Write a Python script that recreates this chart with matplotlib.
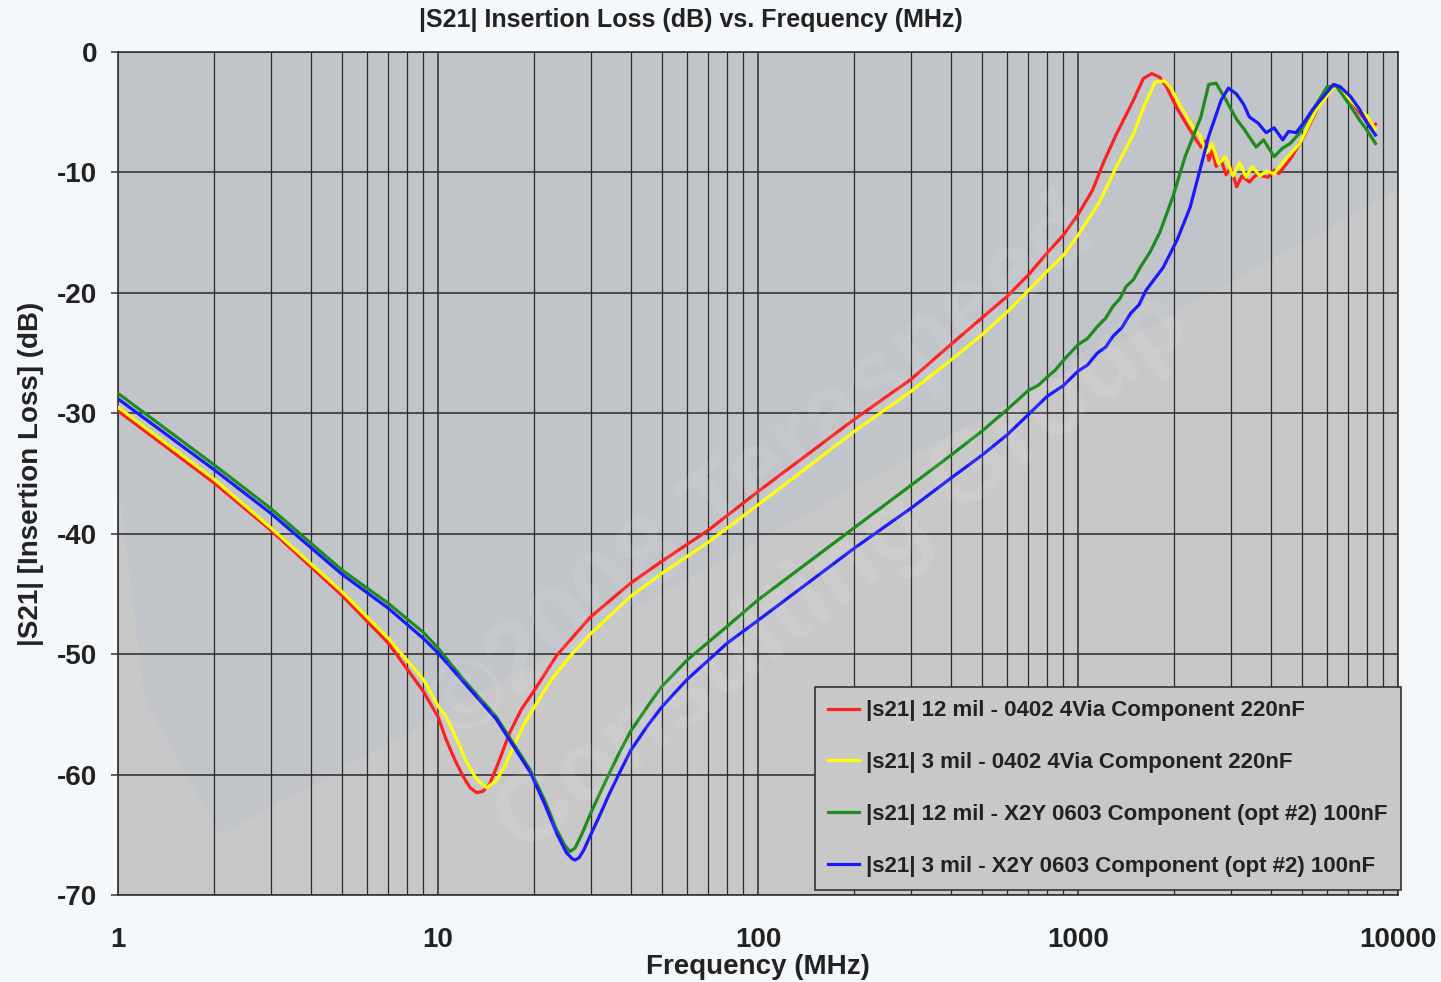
import matplotlib
matplotlib.use('Agg')
import matplotlib.pyplot as plt
from matplotlib.patches import Polygon
from matplotlib.ticker import FixedLocator, NullFormatter

plt.rcParams['font.family'] = ['Liberation Sans', 'DejaVu Sans']
plt.rcParams['font.weight'] = 'bold'
plt.rcParams['axes.unicode_minus'] = False

# |s21| 12 mil - 0402 4Via Component 220nF
red_f = [1, 2, 3, 5, 7, 9, 10, 10.6, 11.3, 12.0, 12.6, 13.2, 13.8, 14.5, 15.5, 16.7, 18.2, 20,
         23.5, 30, 40, 50, 70, 100, 200, 300, 400, 500, 600, 700, 800, 900, 1000, 1109, 1200,
         1319, 1490, 1600, 1700, 1800, 1890, 2040, 2240, 2420, 2500, 2560, 2630, 2700, 2800,
         2900, 3000, 3130, 3250, 3430, 3600, 3930, 4100, 4240, 4450, 4660, 5080, 5650, 6290,
         6600, 7100, 7600, 8000, 8300, 8500]
red_db = [-29.8, -35.8, -39.7, -45.1, -49.1, -53.1, -55.2, -57.1, -58.8, -60.2, -61.1, -61.5,
          -61.4, -60.8, -58.9, -56.6, -54.6, -53.0, -50.1, -46.9, -44.1, -42.3, -39.7, -36.5,
          -30.5, -27.2, -24.3, -22.1, -20.3, -18.5, -16.7, -15.2, -13.5, -11.5, -9.2, -6.8,
          -4.0, -2.2, -1.8, -2.1, -2.9, -4.7, -6.5, -7.9, -7.4, -9.0, -8.2, -9.5, -9.0, -10.2,
          -9.6, -11.2, -10.3, -10.8, -10.2, -10.4, -9.8, -10.1, -9.4, -8.7, -7.0, -4.5, -2.7,
          -3.0, -4.0, -5.1, -5.8, -6.4, -6.0]

# |s21| 3 mil - 0402 4Via Component 220nF
yel_f = [1, 2, 3, 5, 7, 9, 10, 10.6, 11.5, 12.3, 13.2, 14.2, 15.2, 16.1, 17.2, 18.5, 20, 22.5,
         25.8, 30, 40, 50, 70, 100, 200, 300, 400, 500, 600, 700, 800, 900, 1000, 1170, 1320,
         1490, 1620, 1740, 1860, 1950, 2040, 2280, 2400, 2520, 2620, 2750, 2880, 3050, 3200,
         3350, 3500, 3700, 3870, 4100, 4360, 4930, 5500, 6290, 6600, 7100, 7600, 8000, 8300, 8500]
yel_db = [-29.5, -35.5, -39.5, -44.8, -48.7, -52.1, -54.3, -55.2, -57.2, -59.0, -60.4, -61.1,
          -60.5, -59.4, -57.7, -55.9, -54.4, -52.2, -50.2, -48.3, -45.2, -43.3, -40.7, -37.6,
          -31.5, -28.2, -25.6, -23.5, -21.6, -19.8, -18.2, -16.9, -15.2, -12.4, -9.5, -6.8,
          -4.3, -2.5, -2.4, -3.0, -4.0, -6.2, -6.9, -8.4, -7.6, -9.3, -8.7, -10.3, -9.2, -10.4,
          -9.5, -10.3, -9.9, -10.1, -9.2, -7.6, -5.0, -2.9, -3.1, -4.0, -4.8, -5.3, -6.0, -6.4]

# |s21| 12 mil - X2Y 0603 Component (opt #2) 100nF
grn_f = [1, 2, 3, 5, 7, 9, 10, 12, 15.2, 19.4, 21.5, 23.5, 24.8, 25.8, 26.8, 28.2, 30, 32.0,
         34.3, 37, 40, 45, 50, 60, 70, 80, 100, 200, 300, 400, 500, 600, 700, 750, 800, 850, 900,
         1000, 1070, 1149, 1220, 1287, 1350, 1412, 1490, 1563, 1680, 1800, 1980, 2160, 2420,
         2560, 2700, 2900, 3130, 3300, 3600, 3800, 4100, 4350, 4600, 4900, 5200, 6000, 6400,
         7100, 7600, 8000, 8500]
grn_db = [-28.35, -34.3, -37.9, -43.0, -45.8, -48.2, -49.5, -52.1, -55.2, -59.6, -62.1, -64.6,
          -65.8, -66.4, -66.1, -64.9, -63.2, -61.6, -59.9, -58.1, -56.4, -54.4, -52.7, -50.5,
          -49.0, -47.7, -45.5, -39.5, -36.0, -33.5, -31.5, -29.7, -28.1, -27.7, -27.0, -26.4,
          -25.6, -24.3, -23.8, -22.8, -22.1, -21.1, -20.5, -19.5, -18.9, -17.9, -16.6, -15.0,
          -12.0, -8.7, -5.4, -2.7, -2.6, -4.0, -5.6, -6.4, -7.9, -7.3, -8.7, -8.0, -7.6, -6.8,
          -5.6, -2.9, -2.8, -4.5, -5.7, -6.5, -7.6]

# |s21| 3 mil - X2Y 0603 Component (opt #2) 100nF
blu_f = [1, 2, 3, 5, 7, 9, 10, 12, 15.2, 19.4, 21.5, 23.5, 25.2, 26.3, 26.8, 27.6, 28.5, 30,
         32.0, 34.3, 37, 40, 45, 50, 60, 70, 80, 100, 200, 300, 400, 500, 600, 700, 800, 900,
         1000, 1070, 1149, 1220, 1287, 1370, 1460, 1550, 1630, 1845, 2040, 2240, 2420, 2560,
         2800, 2950, 3130, 3300, 3430, 3650, 3870, 4100, 4360, 4550, 4800, 5100, 5400, 6290,
         6600, 7100, 7600, 8000, 8500]
blu_db = [-28.8, -34.7, -38.3, -43.35, -46.2, -48.7, -49.9, -52.3, -55.4, -59.8, -62.4, -64.9,
          -66.5, -67.0, -67.1, -66.9, -66.3, -65.0, -63.4, -61.6, -59.8, -58.0, -56.0, -54.4,
          -52.1, -50.5, -49.1, -47.2, -41.2, -37.9, -35.4, -33.5, -31.8, -30.1, -28.6, -27.7,
          -26.5, -26.0, -25.0, -24.5, -23.6, -22.9, -21.7, -21.0, -19.8, -17.9, -15.6, -12.9,
          -9.5, -7.0, -4.0, -3.0, -3.5, -4.4, -5.4, -5.9, -6.7, -6.3, -7.3, -6.6, -6.7, -5.8,
          -4.8, -2.7, -2.9, -3.7, -4.8, -5.9, -6.9]

series = [
    (red_f, red_db, '#ff2020', '|s21| 12 mil - 0402 4Via Component 220nF'),
    (yel_f, yel_db, '#ffff00', '|s21| 3 mil - 0402 4Via Component 220nF'),
    (grn_f, grn_db, '#1e8c1e', '|s21| 12 mil - X2Y 0603 Component (opt #2) 100nF'),
    (blu_f, blu_db, '#1a1aff', '|s21| 3 mil - X2Y 0603 Component (opt #2) 100nF'),
]

fig = plt.figure(figsize=(14.41, 9.82), dpi=100)
fig.patch.set_facecolor('#f5f8fb')
ax = fig.add_axes([0.0819, 0.0886, 0.8883, 0.8585])
ax.set_facecolor('#c8c8c8')

# faint watermark behind the data
band = Polygon([(0, 1), (0, 0.49), (0.021, 0.231), (0.08, 0.071), (1, 0.836), (1, 1)],
               closed=True, transform=ax.transAxes, facecolor='#a9bbd0', alpha=0.2,
               edgecolor='none', zorder=0)
ax.add_patch(band)
fig.text(0.53, 0.52, '\u00a92008 Teraspeed', fontsize=72, color='white', alpha=0.08,
         rotation=38, ha='center', va='center', zorder=0)
fig.text(0.585, 0.415, 'Consulting Group', fontsize=72, color='white', alpha=0.08,
         rotation=38, ha='center', va='center', zorder=0)

for f, db, c, lab in series:
    ax.plot(f, db, color=c, lw=2.3, label=lab, zorder=3)

ax.set_xscale('log')
ax.set_xlim(1, 10000)
ax.set_ylim(-70, 0)
ax.set_yticks(range(-70, 1, 10))
ax.xaxis.set_major_locator(FixedLocator([1, 10, 100, 1000, 10000]))
minors = [m * 10 ** d for d in range(4) for m in range(2, 10)]
ax.xaxis.set_minor_locator(FixedLocator(minors))
ax.xaxis.set_minor_formatter(NullFormatter())
ax.set_xticklabels(['1', '10', '100', '1000', '10000'])

ax.grid(True, which='major', axis='both', color='#2a2a2a', lw=1.1, zorder=1)
ax.grid(True, which='minor', axis='x', color='#2a2a2a', lw=0.9, zorder=1)
ax.set_axisbelow(True)
for s in ax.spines.values():
    s.set_color('#333333')
    s.set_linewidth(1.2)

ax.tick_params(axis='y', which='major', length=5, width=1.1, color='#333333',
               labelsize=20, pad=10, labelcolor='#222222')
ax.tick_params(axis='x', which='both', length=0, labelsize=20, pad=23, labelcolor='#222222')

ax.set_xlabel('Frequency (MHz)', fontsize=20, fontweight='bold', color='#222222', labelpad=1)
ax.set_ylabel('|S21| [Insertion Loss] (dB)', fontsize=20, fontweight='bold', color='#222222',
              labelpad=9)
fig.text(0.4795, 0.9796, '|S21| Insertion Loss (dB) vs. Frequency (MHz)', fontsize=18,
         fontweight='bold', color='#222222', ha='center', va='center')

leg = ax.legend(loc='upper left', bbox_to_anchor=(0.5445, 0.2467), borderaxespad=0,
                fontsize=16, frameon=True, fancybox=False, handlelength=1.4,
                handletextpad=0.3, labelspacing=1.39, borderpad=0.6)
leg.get_frame().set_facecolor('#c8c8c8')
leg.get_frame().set_edgecolor('#333333')
leg.get_frame().set_alpha(1)
leg.get_frame().set_linewidth(1.2)
for t in leg.get_texts():
    t.set_color('#222222')
leg.set_zorder(5)

fig.savefig('out.png', dpi=100)
